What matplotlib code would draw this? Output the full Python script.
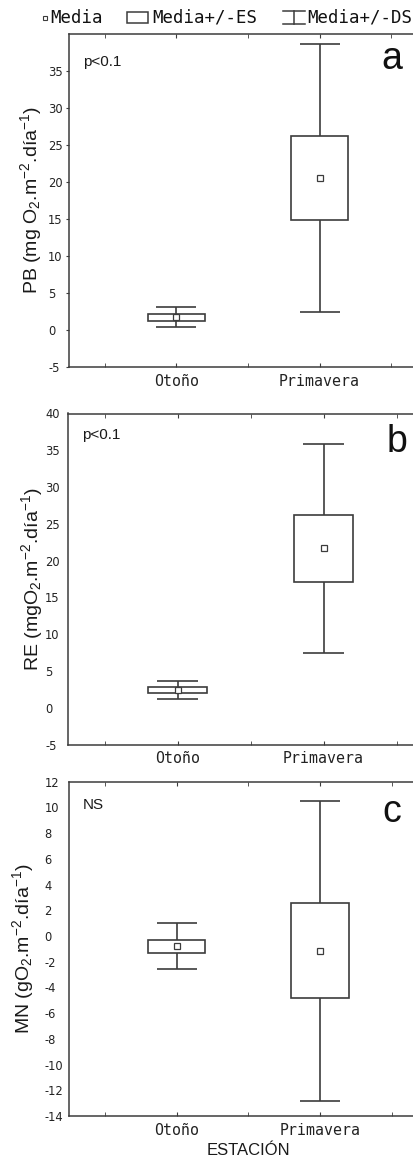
import matplotlib
matplotlib.use("Agg")
import matplotlib.pyplot as plt
from matplotlib.patches import Rectangle
from matplotlib.lines import Line2D

plt.rcParams['font.family'] = ['Liberation Sans', 'DejaVu Sans']
plt.rcParams['mathtext.fontset'] = 'custom'
plt.rcParams['mathtext.rm'] = 'Liberation Sans'
plt.rcParams['mathtext.it'] = 'Liberation Sans'
plt.rcParams['mathtext.default'] = 'regular'

# datos: media, error estandar (ES) y desviacion estandar (DS) por estacion
estaciones = ["Otoño", "Primavera"]

pb_media = [1.72, 20.5]
pb_es = [0.46, 5.7]
pb_ds = [1.33, 18.1]

re_media = [2.4, 21.7]
re_es = [0.4, 4.55]
re_ds = [1.25, 14.2]

mn_media = [-0.8, -1.15]
mn_es = [0.52, 3.71]
mn_ds = [1.78, 11.65]

pb_ticks = [-5, 0, 5, 10, 15, 20, 25, 30, 35]
re_ticks = [-5, 0, 5, 10, 15, 20, 25, 30, 35, 40]
mn_ticks = list(range(-14, 13, 2))

GRIS = '#3c3c3c'
MONO = 'DejaVu Sans Mono'
W, H = 413, 1157

fig = plt.figure(figsize=(W / 100, H / 100), dpi=100)


def panel(rect, media, es, ds, ylim, yticks, tickpad, ticklen, ylabel, labx, sig, letra, lety):
    ax = fig.add_axes(rect)
    x = [1, 2]
    ax.vlines(x, [m - d for m, d in zip(media, ds)], [m + d for m, d in zip(media, ds)],
              color=GRIS, lw=1.2, zorder=1)
    for xi, m, s, d in zip(x, media, es, ds):
        ax.hlines([m - d, m + d], xi - 0.14, xi + 0.14, color=GRIS, lw=1.2, zorder=1)
        ax.add_patch(Rectangle((xi - 0.2, m - s), 0.4, 2 * s, fc='white', ec=GRIS, lw=1.2, zorder=2))
    ax.plot(x, media, 's', ms=4.3, mfc='white', mec=GRIS, mew=0.9, zorder=3)

    ax.set_xlim(0.25, 2.75)
    ax.set_ylim(*ylim)
    ax.set_xticks(x)
    ax.set_xticklabels(estaciones, fontfamily=MONO, fontsize=10.7, color='#222222')
    ax.set_xticks([0.5, 1.5, 2.5], minor=True)
    ax.tick_params(axis='x', which='both', direction='in', top=True, length=3,
                   color=GRIS, pad=5)
    ax.set_yticks(yticks)
    ax.set_yticklabels([str(t) for t in yticks], ha='left', fontfamily='DejaVu Sans',
                       fontsize=8.3, color='#222222')
    ax.tick_params(axis='y', direction='out', length=ticklen, color=GRIS, pad=tickpad)
    for sp in ax.spines.values():
        sp.set_color(GRIS)
        sp.set_linewidth(1.1)

    ax.set_ylabel(ylabel, fontsize=14, color='#1a1a1a')
    ax.yaxis.set_label_coords(labx, 0.5)
    ax.yaxis.label.set_verticalalignment('center')

    ax.text(0.038, sig[1], sig[0], transform=ax.transAxes, fontsize=11,
            ha='left', va='center', color='#1a1a1a')
    ax.text(0.902, lety, letra, transform=ax.transAxes, fontsize=27,
            ha='center', va='center', color='#111111')
    return ax


panel([69 / W, 1 - 367 / H, 358 / W, 333 / H], pb_media, pb_es, pb_ds, (-5, 40), pb_ticks,
      13, 2, 'PB (mg O$_2$.m$^{-2}$.día$^{-1}$)', -0.106, ('p<0.1', 0.916), 'a', 0.925)
panel([68 / W, 1 - 744.5 / H, 365 / W, 331 / H], re_media, re_es, re_ds, (-5, 40), re_ticks,
      16.5, 0, 'RE (mgO$_2$.m$^{-2}$.día$^{-1}$)', -0.099, ('p<0.1', 0.934), 'b', 0.915)
ax_c = panel([69.3 / W, 1 - 1116 / H, 358 / W, 334.3 / H], mn_media, mn_es, mn_ds, (-14, 12),
             mn_ticks, 18, 0, 'MN (gO$_2$.m$^{-2}$.día$^{-1}$)', -0.129, ('NS', 0.931), 'c', 0.91)
ax_c.set_xlabel('ESTACIÓN', fontsize=12, color='#1a1a1a')
ax_c.xaxis.set_label_coords(0.5, -0.102)
ax_c.xaxis.label.set_verticalalignment('center')

# leyenda superior
lax = fig.add_axes([0, 0, 1, 1])
lax.set_xlim(0, W)
lax.set_ylim(H, 0)
lax.axis('off')
lax.plot([45], [17.5], 's', ms=3.5, mfc='white', mec=GRIS, mew=0.8)
lax.text(50, 18, 'Media', fontfamily=MONO, fontsize=12.5, va='center', ha='left', color='#111111')
lax.add_patch(Rectangle((127, 12), 21, 11, fc='white', ec=GRIS, lw=1.1))
lax.text(152, 18, 'Media+/-ES', fontfamily=MONO, fontsize=12.5, va='center', ha='left', color='#111111')
lax.add_line(Line2D([283, 305], [11, 11], color=GRIS, lw=1.1))
lax.add_line(Line2D([294, 294], [11, 24], color=GRIS, lw=1.1))
lax.add_line(Line2D([283, 305], [24, 24], color=GRIS, lw=1.1))
lax.text(307, 18, 'Media+/-DS', fontfamily=MONO, fontsize=12.5, va='center', ha='left', color='#111111')

fig.savefig('out.png', dpi=100)
